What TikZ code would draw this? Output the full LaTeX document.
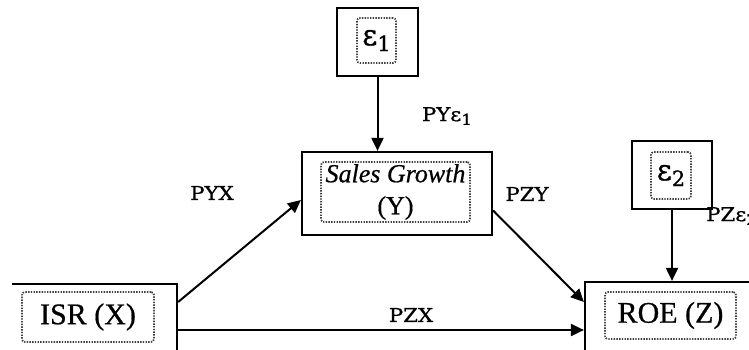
\documentclass[tikz,border=0pt]{standalone}
\usepackage{fontspec}
\setmainfont[FakeBold=0.6]{Liberation Serif}
\newfontfamily\labfont[FakeStretch=1.12, FakeBold=1]{DejaVu Serif}
\newfontfamily\epsfont[FakeBold=1]{DejaVu Serif}
\usetikzlibrary{arrows.meta}
\tikzset{
  outerbox/.style={draw=black, line width=2.2pt, minimum width=#1, inner sep=0pt},
  innerbox/.style={draw=black!75, dash pattern=on 1.4pt off 1.3pt, line width=1.7pt, rounded corners=3pt, inner sep=0pt, align=center},
  conn/.style={line width=2pt, -{Triangle[length=13pt,width=12pt]}},
  lbl/.style={font=\labfont\fontsize{19}{21}\selectfont, inner sep=0pt},
  bigtxt/.style={font=\fontsize{30}{32}\selectfont},
}
\newcommand{\epsbox}[1]{{\epsfont\fontsize{29}{30}\selectfont ε\raisebox{-0.2em}{\fontsize{21}{22}\selectfont #1}}}
\newcommand{\epslab}[1]{ε\raisebox{-0.2em}{\fontsize{15}{16}\selectfont #1}}
\begin{document}
\begin{tikzpicture}[x=1pt,y=-1pt]
\useasboundingbox (0,0) rectangle (749,350);
\clip (12,0) rectangle (749,350);
% outer boxes
\node[outerbox=81pt, minimum height=68pt] (e1box) at (377.5,42) {};
\node[outerbox=80pt, minimum height=68pt] (e2box) at (672,175) {};
\node[outerbox=190pt, minimum height=83pt] (sg) at (397,193.5) {};
\node[outerbox=197pt, minimum height=92pt] (isr) at (78.5,330) {};
\node[outerbox=215pt, minimum height=94pt] (roe) at (692.5,329) {};
% inner dotted boxes with text
\node[innerbox, minimum width=39pt, minimum height=45pt] (e1in) at (376.5,40.5) {\epsbox{1}};
\node[innerbox, minimum width=40pt, minimum height=47pt] (e2in) at (671,175.5) {\epsbox{2}};
\node[innerbox, minimum width=149pt, minimum height=60pt, font=\fontsize{26}{32}\selectfont] (sgin) at (395.5,192) {\textit{Sales Growth}\\(Y)};
\node[innerbox, minimum width=132pt, minimum height=50pt, bigtxt] (isrin) at (88,317) {ISR (X)};
\node[innerbox, minimum width=131pt, minimum height=47pt, bigtxt] (roein) at (670.5,315.5) {ROE (Z)};
% connectors
\draw[conn] (e1box.south) -- (e1box.south |- sg.north);
\draw[conn] (e2box.south) -- (e2box.south |- roe.north);
\draw[conn] ([yshift=28pt]isr.east) -- ([yshift=-6.5pt]sg.west);
\draw[conn] (isr.east) -- (isr.east -| roe.west);
\draw[conn] ([yshift=-17pt]sg.east) -- ([yshift=27pt]roe.west);
% labels
\node[lbl] (lpye) at (447,116) {PY\epslab{1}};
\node[lbl] (lpyx) at (212,193) {PYX};
\node[lbl] (lpzy) at (527,194) {PZY};
\node[lbl, anchor=west] (lpze) at (706,216) {PZ\epslab{2}};
\node[lbl] (lpzx) at (411,315) {PZX};
\end{tikzpicture}
\end{document}
